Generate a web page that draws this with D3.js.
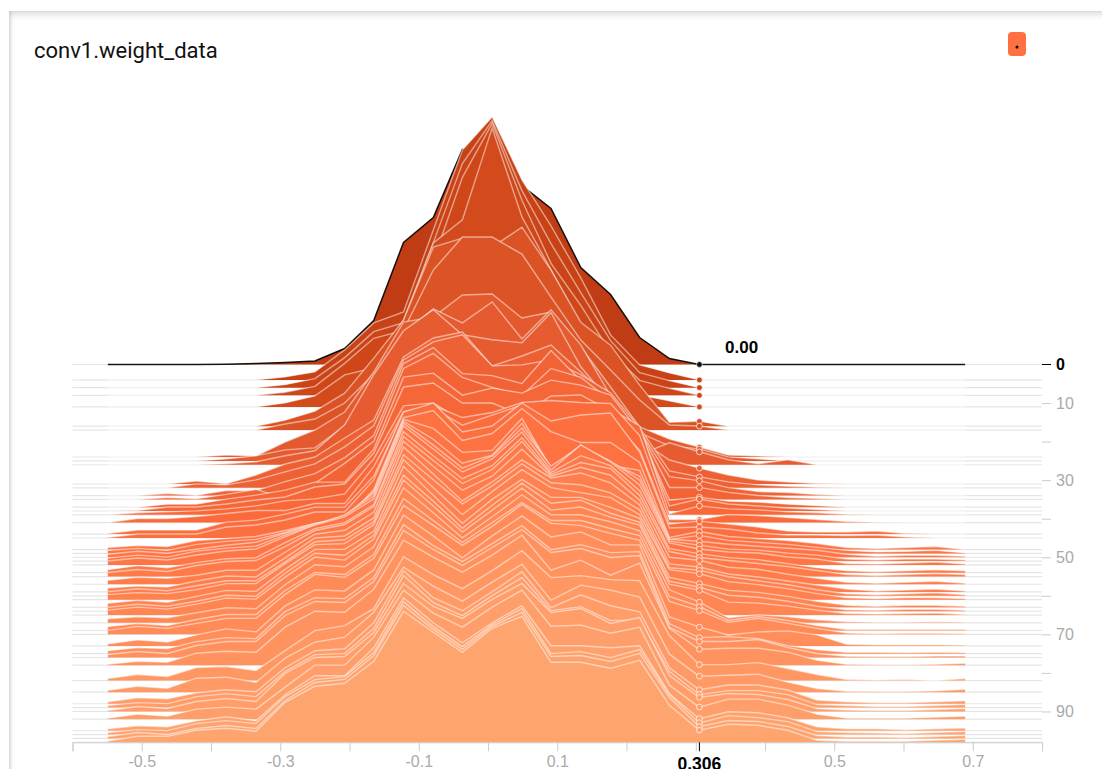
<!DOCTYPE html>
<html><head><meta charset="utf-8">
<script src="https://cdn.jsdelivr.net/npm/d3@7/dist/d3.min.js"></script>
<style>
html,body{margin:0;padding:0;background:#fff;overflow:hidden}
#card{position:absolute;left:9px;top:11px;width:1200px;height:900px;background:#fff;box-shadow:inset 0 3px 7px rgba(0,0,0,.16),inset 2px 0 2px rgba(0,0,0,.08)}
svg{position:absolute;left:0;top:0}
text{font-family:"Liberation Sans",sans-serif}
</style></head><body>
<div id="card"></div>
<svg id="c" width="1102" height="769"></svg>
<script>
const title = "conv1.weight_data";
const hoverValue = 0.306;
const hoverLabel = "0.306";
const hoverCount = "0.00";
const baseColor = "#ff7043";
const rampSteps = [0,8,17,26,40,50,70,85,98];
const rampColors = ["#c03c14","#cf4718","#dc5426","#e65b2f","#f9693a","#ff7444","#ff8b58","#ff9a66","#fea46f"];
const xTickValues = [-0.6,-0.5,-0.4,-0.3,-0.2,-0.1,0,0.1,0.2,0.3,0.4,0.5,0.6,0.7,0.8];
const xTickLabels = [-0.5,-0.3,-0.1,0.1,0.5,0.7];
const yTickValues = [10,20,30,40,50,60,70,80,90];
const yTickLabels = [10,30,50,70,90];
const bins = [-0.549,-0.506,-0.463,-0.421,-0.378,-0.335,-0.293,-0.250,-0.207,-0.165,-0.122,-0.079,-0.037,0.006,0.049,0.091,0.134,0.177,0.219,0.262,0.305,0.347,0.390,0.433,0.475,0.518,0.561,0.603,0.646,0.689];
const steps = [0,4,6,8,11,16,17,24,25,26,31,32,34,35,37,38,39,41,44,45,48,49,50,51,52,54,55,57,59,60,61,63,64,65,67,69,70,73,75,76,78,82,85,88,89,90,92,95,96,97,98];
const s0=[0,0,0,0,0.3,1,2,3.5,16,44,122,147,215,216,179,156,97,70,27,6,0,0,0,0,0,0,0,0,0,0];
const s4=[0,0,0,0,0,0,3,8,30,57,68,150,230,263,200,154,102,45,15,7,0,0,0,0,0,0,0,0,0,0];
const s6=[0,0,0,0,0,0,3,9,30,56,65,145,224,267,197,144,95,47,15,7,0,0,0,0,0,0,0,0,0,0];
const s8=[0,0,0,0,0,0,3,9,32,57,65,135,218,272,195,132,90,43,15,7,0,0,0,0,0,0,0,0,0,0];
const s11=[0,0,0,0,0,0,4,11,32,39,87,164,187,279,190,137,82,35,12,6,0,0,0,0,0,0,0,0,0,0];
const s16=[0,0,0,0,0,0,6,15,33,68,106,179,188,179,199,156,104,81,41,4,5,0,0,0,0,0,0,0,0,0];
const s17=[0,0,0,0,0,0,6,11,27,56,100,160,193,193,176,133,90,60,30,5,4,0,0,0,0,0,0,0,0,0];
const s24=[0,0,0,0,2,1,15,27,45,85,135,140,162,163,139,145,110,70,30,18,10,2,1,0,0,0,0,0,0,0];
const s25=[0,0,0,0,2,5,11,13,35,80,128,152,138,159,122,151,116,65,28,15,12,4,2,0,0,0,0,0,0,0];
const s26=[0,0,0,0,1,3,9,14,40,90,134,155,130,125,122,152,98,62,10,22,13,5,1,5,0,0,0,0,0,0];
const s31=[0,0,0,3,0.3,9,20,27,46,64,127,146,152,118,128,139,112,84,44,24,16,9,4,2,0.5,0,0,0,0,0];
const s32=[0,0,0,4,3,8,16,24,41,62,128,146,153,122,123,128,113,95,60,17,11,6,3,1.5,0.5,0,0,0,0,0];
const s34=[0,0,2,0.3,5,5,14,22,38,60,132,148,122,120,112,145,115,95,65,19,15,8,4,3,1,0,0,0,0,0];
const s35=[0,0,2,0.7,5,10,1,16,36,58,131,146,122,112,104,131,122,99,69,12,12,7,4,2,1,0,0,0,0,0];
const s37=[0,0,3,3,8,12,17,25,25,58,130,134,112,119,114,127,122,112,75,7,10,6,5,3,1.5,0,0,0,0,0];
const s38=[0,0.5,4,4,7,11,14,24,27,58,124,128,108,108,96,115,116,100,80,5,12,7,5,3,1.5,0,0,0,0,0];
const s39=[0,2,3,4,6,9,14,16,21,56,109,112,94,99,111,96,107,106,89,1,9,6,5,3,2,0.5,0,0,0,0];
const s41=[0,4,4,6,9,12,12,19,19,56,111,117,105,110,120,122,120,119,87,3,3,8,7,5,3,1,0.3,0,0,0];
const s44=[0.5,4,4,4,12,14,20,27,27,58,120,126,109,119,129,109,114,114,84,10,13,10,7,3,2,2,3,0.5,0,0];
const s45=[0.5,4,4,4,11,13,18,26,26,58,126,135,106,112,135,117,123,125,86,10,11,9,5,3,3,2.5,3,1,0,0];
const s48=[2,4,3,9,11,13,19,26,29,60,132,139,109,116,141,118,107,107,87,12,18,13,11,9,6,2,1,2,3,0];
const s49=[3,5,3,9,12,14,21,30,36,62,134,125,101,103,135,85,108,88,83,14,18,13,11,9,6,3,1.5,2,3,0.5];
const s50=[3,6,4,8,12,15,24,33,42,64,136,118,94,102,134,90,110,95,81,18,16,13,11,9,7,3,1,2,2,1];
const s51=[3,6,4,10,13,15,26,36,46,65,138,116,93,105,133,95,115,100,81,20,16,12,11,8,6,2,1,2,2,1];
const s52=[4,7,5,10,14,16,28,40,48,66,139,116,93,106,133,95,120,103,80,22,16,13,12,8,6,1.5,1,2,3,1];
const s54=[3,7,5,10,14,15,30,44,50,68,141,117,94,107,135,100,117,107,82,24,19,15,13,9,5,2,1,2,3,2];
const s55=[4,7,5,11,15,16,30,46,52,70,140,116,93,107,135,102,114,108,81,25,19,16,13,10,6,2,1,2,3,2];
const s57=[4,7,6,9,14,14,32,50,54,72,143,118,94,108,135,108,117,109,84,27,24,17,15,10,6,2,1,2,3,1];
const s59=[4,6,5,11,16,15,34,54,56,74,145,118,91,110,132,114,119,109,87,28,25,18,15,11,7,3,1,2,3,1];
const s60=[4,7,5,10,15,15,34,54,56,74,141,116,92,110,132,113,111,103,86,28,25.7,19,15,11,6,2,1,2,3,1];
const s61=[5,7,6,10,16,16,36,55,56,75,140,112,85,108,130,112,107,102,85,30,26,18,15,11,6,2,1,2,2,1];
const s63=[4,7,5,11,17,16,38,58,58,76,141,112,84,108,128,110,110,100,89,30,24,17,15,11,6,2,1,2,2,1];
const s64=[4,7,5,10,16,15,38,58,56,76,136,110,83,106,128,108,111,98,89,30,24,16,14,10,5,1.5,1,2,2,1];
const s65=[5,8,6,11,17,16,38,58,55,76,135,109,83,105,127,105,108,98,90,31,25,13,12,9,5,1.5,1,1.5,2,0.5];
const s67=[4,6,5,10,15,14,38,58,56,76,135,110,85,106,128,108,108,101,92,33,21,5,8,6,3,1,0.5,0.5,1,0.5];
const s69=[4,7,5,11,16,16,40,58,56,76,132,110,88,108,128,110,110,102,95,34,24,10,14,10,5,1,1,1,1,1];
const s70=[4,8,6,11,16,16,40,60,57,76,129,109,89,108,130,111,109,101,94,33,24,12,16,11,6,1.3,0.5,1,1,0.5];
const s73=[2,6,4,11,17,14,40,56,55,76,131,110,88,110,130,109,114,101,101,29,19,11,14,15,11,1.7,1,1,1,0.7];
const s75=[3,6,5,12,16,15,42,56,55,76,129,108,92,110,128,104,109,101,102,30,16,17,15,8,4,1.3,1.3,1,1.3,1];
const s76=[3,6,4,12,16,16,42,56,55,76,127,108,92,110,128,105,109,100,102,30,16,16,18,10,4,1.3,1,1,1.5,1.5];
const s78=[1,4,3,12,14,13,38,54,53,76,125,108,93,110,130,95,105,90,102,37,16,17,17,13,5,1,0.5,0.3,1,2];
const s82=[2,6,4,13,14,10,30,50,55,72,124,106,92,110,130,103,105,101,100,45,16,16,18,12,6,1,0.5,1,0,2];
const s85=[2,6,4,14,15,10,34,50,55,80,125,106,91,110,128,92,107,102,95,38,16,17,18,10,3.7,1,0.7,0.7,1.3,3];
const s88=[2,6,5,11,14,12,36,53,55,81,133,106,93,112,132,96,109,98,92,36,14,18.7,18.7,13.7,3.7,2,1,1,2,3];
const s89=[2,5,4,11,14,11,36,53,54,79,132,105,92,112,130,97,101,87,88,36,13,17,17,13,3,2,1,1,2,3];
const s90=[1,5,3,10,13,10,38,54,55,79,128,105,93,112,128,99,103,88,94,36,14,18,17,12,3,1.5,1,1,2,3];
const s92=[1,5,3,10,12,10,32,54,54,82,129,106,92,112,129,93,94,86,92,34,12,20,20,14,5,1,1,1,2,3];
const s95=[2,5,4,10,14,10,36,55,55,83,133,108,88,108,125,85,85,83,85,37,12,19,18,13,4,2,2,1,2,2.7];
const s96=[2,5,4,11,14,11,38,55,58,82,133,108,88,110,126,81,83,77,85,40,11.7,19,17,13,3,2,1.5,1,2,3];
const s97=[2,6,4,10,13,10,38,56,59,83,133,109,89,112,126,82,83,77,85,41,11.7,18,17,12,3,1.5,1.5,1,2,3];
const s98=[1.3,6,6,12,14,11,40,56,59,81,131,110,90,114,126,80,80,74,82,37,12,18,17,12,2,1,1,1,2,3];
const seriesValues=[s0,s4,s6,s8,s11,s16,s17,s24,s25,s26,s31,s32,s34,s35,s37,s38,s39,s41,s44,s45,s48,s49,s50,s51,s52,s54,s55,s57,s59,s60,s61,s63,s64,s65,s67,s69,s70,s73,s75,s76,s78,s82,s85,s88,s89,s90,s92,s95,s96,s97,s98];

const svg=d3.select("#c");
const left=72.5,right=1042,top0=364.5,bottom=742.3;
const x=d3.scaleLinear().domain([-0.6,0.8]).range([left,right]);
const y=d3.scaleLinear().domain([0,98]).range([top0,bottom]);
const h=d3.scaleLinear().domain([0,300]).range([0,-300]);
const color=d3.scaleLinear().domain(rampSteps).range(rampColors).interpolate(d3.interpolateRgb);

svg.append("text").attr("x",34).attr("y",58).attr("font-size",22).style("font-family","Roboto").attr("fill","#111").text(title);
svg.append("rect").attr("x",1008).attr("y",32).attr("width",18).attr("height",24).attr("rx",4).attr("fill",baseColor);
svg.append("circle").attr("cx",1017).attr("cy",47).attr("r",1.5).attr("fill","#000");

const area=d3.area().x((d,i)=>x(bins[i])).y0(h(0)).y1(d=>h(d));
const line=d3.line().x((d,i)=>x(bins[i])).y(d=>h(d));
function valueAt(v,t){const i=Math.min(d3.bisectLeft(bins,t),bins.length-1);if(i===0)return v[0];
  const f=(t-bins[i-1])/(bins[i]-bins[i-1]);return v[i-1]+(v[i]-v[i-1])*f;}

const g=svg.append("g").selectAll("g").data(seriesValues).join("g")
  .attr("transform",(d,i)=>`translate(0,${y(steps[i])})`);
g.append("line").attr("x1",left).attr("x2",right).attr("stroke","#000").attr("stroke-opacity",.1).attr("stroke-width",1.2);
g.append("path").attr("d",d=>area(d)).attr("fill",(d,i)=>color(steps[i]));
g.append("path").attr("d",d=>line(d)).attr("fill","none")
  .attr("stroke",(d,i)=>i===0?"#000":"#fff").attr("stroke-opacity",(d,i)=>i===0?.9:.5).attr("stroke-width",(d,i)=>i===0?1.5:1.4);
g.append("circle").attr("cx",x(hoverValue)-0.5).attr("cy",d=>h(valueAt(d,hoverValue))).attr("r",2.9)
  .attr("fill",(d,i)=>i===0?"#111":color(steps[i])).attr("stroke","#fff").attr("stroke-opacity",.7).attr("stroke-width",1);

// x axis
const xFmt=d=>xTickLabels.some(l=>Math.abs(l-d)<1e-6)?d.toFixed(1):"";
const xAxis=svg.append("g").attr("transform",`translate(0,${bottom})`)
  .call(d3.axisBottom(x).tickValues(xTickValues).tickSize(9).tickFormat(xFmt));
xAxis.selectAll("path,line").attr("stroke","#ccc");
xAxis.selectAll("text").attr("fill","#aaa").attr("font-size",16).attr("dy",0).attr("y",24.5).style("font-family","Liberation Sans");
svg.append("line").attr("x1",x(hoverValue)-0.5).attr("x2",x(hoverValue)-0.5).attr("y1",bottom).attr("y2",bottom+9).attr("stroke","#000");
svg.append("text").attr("x",x(hoverValue)-0.5).attr("y",770).attr("text-anchor","middle").attr("font-size",17.5).attr("font-weight","bold").attr("fill","#000").text(hoverLabel);

// y axis
const yAxis=svg.append("g").attr("transform",`translate(${right},0)`)
  .call(d3.axisRight(y).tickValues(yTickValues).tickSize(9).tickPadding(5).tickFormat(d=>yTickLabels.includes(d)?d:""));
yAxis.select("path").remove();
yAxis.selectAll("line").attr("stroke","#ccc");
yAxis.selectAll("text").attr("fill","#aaa").attr("font-size",16).style("font-family","Liberation Sans");
svg.append("line").attr("x1",right).attr("x2",right+9).attr("y1",y(0)).attr("y2",y(0)).attr("stroke","#000");
svg.append("text").attr("x",right+14).attr("y",y(0)+5.5).attr("font-size",16).attr("font-weight","bold").attr("fill","#000").text("0");
svg.append("text").attr("x",725).attr("y",353).attr("font-size",17).attr("font-weight","bold").attr("fill","#000").text(hoverCount);
</script>
</body></html>
